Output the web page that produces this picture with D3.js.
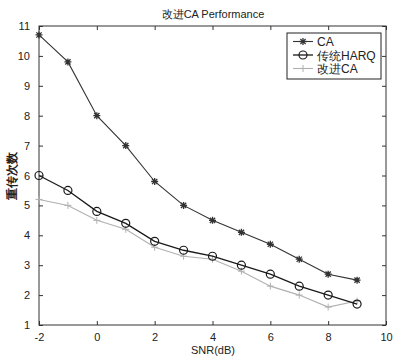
<!DOCTYPE html>
<html>
<head>
<meta charset="utf-8">
<script src="https://cdn.jsdelivr.net/npm/d3@7"></script>
<style>
  body { margin: 0; background: #fff; }
  svg { display: block; font-family: "Liberation Sans", Arial, sans-serif; }
</style>
</head>
<body>
<svg id="chart" width="400" height="364"></svg>
<script>
const snr = [-2, -1, 0, 1, 2, 3, 4, 5, 6, 7, 8, 9];
const caValues = [10.7, 9.8, 8.0, 7.0, 5.8, 5.0, 4.5, 4.1, 3.7, 3.2, 2.7, 2.5];
const harqValues = [6.0, 5.5, 4.8, 4.4, 3.8, 3.5, 3.3, 3.0, 2.7, 2.3, 2.0, 1.7];
const improvedValues = [5.2, 5.0, 4.5, 4.2, 3.6, 3.3, 3.2, 2.8, 2.3, 2.0, 1.6, 1.8];
const xTicks = [-2, 0, 2, 4, 6, 8, 10];
const yTicks = [1, 2, 3, 4, 5, 6, 7, 8, 9, 10, 11];
const seriesNames = ["CA", "传统HARQ", "改进CA"];

const svg = d3.select("#chart");
const pL = 39, pR = 386, pT = 26, pB = 325;

const x = d3.scaleLinear().domain([-2, 10]).range([pL, pR]);
const y = d3.scaleLinear().domain([1, 11]).range([pB, pT]);

// frame
svg.append("rect")
    .attr("x", pL).attr("y", pT)
    .attr("width", pR - pL).attr("height", pB - pT)
    .attr("fill", "none").attr("stroke", "#333").attr("stroke-width", 1);

// axes with inward ticks (matlab style)
const tickStyle = g => {
    g.select(".domain").remove();
    g.selectAll("line").attr("stroke", "#333");
    g.selectAll("text").attr("fill", "#222").attr("font-size", 11);
};
svg.append("g").attr("transform", `translate(0,${pB})`)
    .call(d3.axisBottom(x).tickValues(xTicks).tickSizeInner(-4).tickPadding(8).tickFormat(d => String(d)))
    .call(tickStyle);
svg.append("g").attr("transform", `translate(0,${pT})`)
    .call(d3.axisTop(x).tickValues(xTicks).tickSizeInner(-4).tickFormat(""))
    .call(tickStyle);
svg.append("g").attr("transform", `translate(${pL},0)`)
    .call(d3.axisLeft(y).tickValues(yTicks).tickSizeInner(-4).tickPadding(9))
    .call(tickStyle);
svg.append("g").attr("transform", `translate(${pR},0)`)
    .call(d3.axisRight(y).tickValues(yTicks).tickSizeInner(-4).tickFormat(""))
    .call(tickStyle);

const line = d3.line().x(d => x(d[0])).y(d => y(d[1]));

function star(g, cx, cy, color) {
    const s = 3.5;
    const p = `M${cx - s},${cy}H${cx + s}M${cx},${cy - s}V${cy + s}` +
        `M${cx - s * 0.75},${cy - s * 0.75}L${cx + s * 0.75},${cy + s * 0.75}` +
        `M${cx - s * 0.75},${cy + s * 0.75}L${cx + s * 0.75},${cy - s * 0.75}`;
    g.append("path").attr("d", p).attr("stroke", color).attr("stroke-width", 1.3).attr("fill", "none");
}
function plus(g, cx, cy, color) {
    const s = 3.5;
    g.append("path").attr("d", `M${cx - s},${cy}H${cx + s}M${cx},${cy - s}V${cy + s}`)
        .attr("stroke", color).attr("stroke-width", 1).attr("fill", "none");
}
function circle(g, cx, cy, color) {
    g.append("circle").attr("cx", cx).attr("cy", cy).attr("r", 4)
        .attr("fill", "none").attr("stroke", color).attr("stroke-width", 1.2);
}

const series = [
    { values: caValues, color: "#333", width: 1.1, marker: star },
    { values: harqValues, color: "#1a1a1a", width: 1.3, marker: circle },
    { values: improvedValues, color: "#b0b0b0", width: 1.1, marker: plus }
];

series.slice().reverse().forEach(s => {
    const pts = snr.map((v, i) => [v, s.values[i]]);
    svg.append("path").attr("d", line(pts))
        .attr("fill", "none").attr("stroke", s.color).attr("stroke-width", s.width);
    const g = svg.append("g");
    pts.forEach(p => s.marker(g, x(p[0]), y(p[1]), s.color));
});

// legend
const lg = svg.append("g").attr("transform", "translate(287,33)");
lg.append("rect").attr("width", 94).attr("height", 46)
    .attr("fill", "#fff").attr("stroke", "#222").attr("stroke-width", 1);
series.forEach((s, i) => {
    const ly = 8.5 + i * 13.5;
    lg.append("line").attr("x1", 6).attr("x2", 26).attr("y1", ly).attr("y2", ly)
        .attr("stroke", s.color).attr("stroke-width", s.width);
    s.marker(lg, 16, ly, s.color);
    lg.append("text").attr("x", 30).attr("y", ly + 4.5)
        .attr("font-size", 12).attr("fill", "#222").text(seriesNames[i]);
});

// labels
svg.append("text").attr("x", 213).attr("y", 18).attr("text-anchor", "middle")
    .attr("font-size", 11).attr("fill", "#222").text("改进CA Performance");
svg.append("text").attr("x", 213).attr("y", 354).attr("text-anchor", "middle")
    .attr("font-size", 11).attr("fill", "#222").text("SNR(dB)");
svg.append("text").attr("transform", "translate(16,176) rotate(-90)")
    .attr("text-anchor", "middle").attr("font-size", 12).attr("font-weight", "bold")
    .attr("fill", "#222").text("重传次数");
</script>
</body>
</html>
